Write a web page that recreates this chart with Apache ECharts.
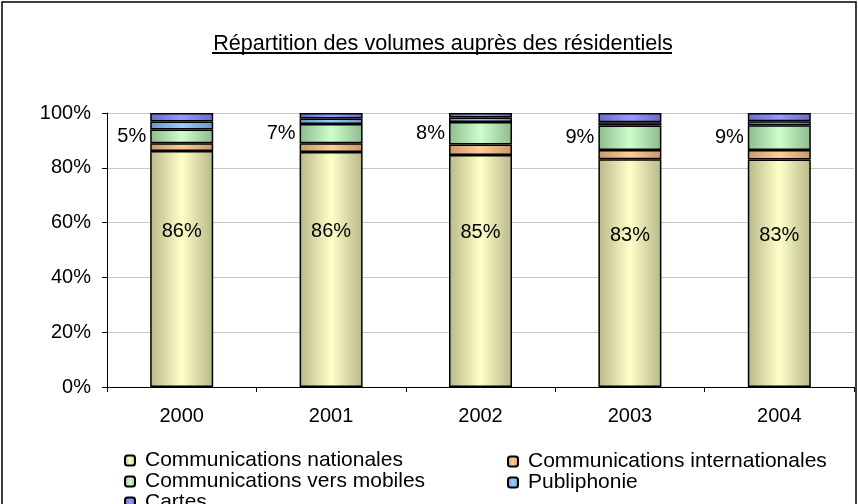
<!DOCTYPE html>
<html>
<head>
<meta charset="utf-8">
<script src="https://cdn.jsdelivr.net/npm/echarts@6/dist/echarts.min.js"></script>
<style>
html,body{margin:0;padding:0;background:#fff;}
#main{width:858px;height:504px;}
</style>
</head>
<body>
<div id="main"></div>
<script>
// annees
var years = ['2000', '2001', '2002', '2003', '2004'];
// parts en %
var nationales = [86.1, 85.8, 84.7, 83.1, 83.0];
var internationales = [2.9, 3.2, 3.8, 3.4, 3.5];
var mobiles = [5.0, 7.0, 8.2, 8.9, 9.0];
var publiphonie = [2.9, 2.0, 1.7, 1.2, 1.5];
var cartes = [3.1, 2.0, 1.6, 3.4, 3.0];
var yTicks = ['0%', '20%', '40%', '60%', '80%', '100%'];

var chart = echarts.init(document.getElementById('main'));

//degrade horizontal facon excel
var grad = function(edge, mid){
	return new echarts.graphic.LinearGradient(0, 0, 1, 0, [
		{offset: 0, color: edge},
		{offset: 0.5, color: mid},
		{offset: 1, color: edge}
	]);
};

var font = 'Liberation Sans, Arial, sans-serif';

var serie = function(name, data, edge, mid, label){
	return {
		name: name,
		type: 'bar',
		stack: 'total',
		barWidth: 63,
		data: data,
		itemStyle: {color: grad(edge, mid), borderColor: '#000', borderWidth: 1.5},
		label: label || {show: false}
	};
};

var legendText = {fontFamily: font, fontSize: 21, color: '#000', lineHeight: 19, padding: [0, 0, 0, 5]};

var option = {
	animation: false,
	color: ['#FFFFC0', '#FFCC99', '#CCFFCC', '#99CCFF', '#9999FF'],
	title: {
		text: 'Répartition des volumes auprès des résidentiels',
		left: 438,
		top: 28,
		textAlign: 'center',
		textStyle: {fontFamily: font, fontSize: 21.6, fontWeight: 'normal', color: '#000'}
	},
	graphic: [
		{type: 'rect', shape: {x: 2, y: 2, width: 854, height: 520}, style: {fill: 'none', stroke: '#000', lineWidth: 1.5}, silent: true},
		{type: 'line', shape: {x1: 212, y1: 53, x2: 672, y2: 53}, style: {stroke: '#000', lineWidth: 2}, silent: true}
	],
	legend: [
		{
			orient: 'vertical', left: 124, top: 450, height: 100, itemGap: 0, padding: 0,
			itemWidth: 10, itemHeight: 10,
			data: ['Communications nationales', 'Communications vers mobiles', 'Cartes'],
			textStyle: legendText
		},
		{
			orient: 'vertical', left: 507, top: 451, height: 100, itemGap: 0, padding: 0,
			itemWidth: 10, itemHeight: 10,
			data: ['Communications internationales', 'Publiphonie'],
			textStyle: legendText
		}
	],
	grid: {left: 107, right: 4, top: 113, bottom: 117},
	xAxis: {
		type: 'category',
		data: years,
		axisLine: {lineStyle: {color: '#000'}},
		axisTick: {show: true, alignWithLabel: false, length: 5, lineStyle: {color: '#000'}},
		axisLabel: {fontFamily: font, fontSize: 20, color: '#000', margin: 19}
	},
	yAxis: {
		type: 'value',
		min: 0, max: 100, interval: 20,
		axisLine: {show: true, lineStyle: {color: '#000'}},
		axisTick: {show: true, length: 5, lineStyle: {color: '#000'}},
		axisLabel: {fontFamily: font, fontSize: 20, color: '#000', margin: 16,
			formatter: function(v){ return yTicks[v / 20]; }},
		splitLine: {lineStyle: {color: '#c8c8c8'}}
	},
	series: [
		serie('Communications nationales', nationales, '#b8b88a', '#FFFFC8', {
			show: true, position: 'inside', offset: [0, -38],
			fontFamily: font, fontSize: 20, color: '#000',
			formatter: function(p){ return Math.round(p.value) + '%'; }
		}),
		serie('Communications internationales', internationales, '#c89a6a', '#FFCC99'),
		serie('Communications vers mobiles', mobiles, '#8fba8f', '#CCFFCC', {
			show: true, position: 'left', distance: 4,
			fontFamily: font, fontSize: 20, color: '#000',
			formatter: function(p){ return Math.round(p.value) + '%'; }
		}),
		serie('Publiphonie', publiphonie, '#6a96c4', '#99CCFF'),
		serie('Cartes', cartes, '#6a6ac8', '#9999FF')
	]
};
chart.setOption(option);
</script>
</body>
</html>
